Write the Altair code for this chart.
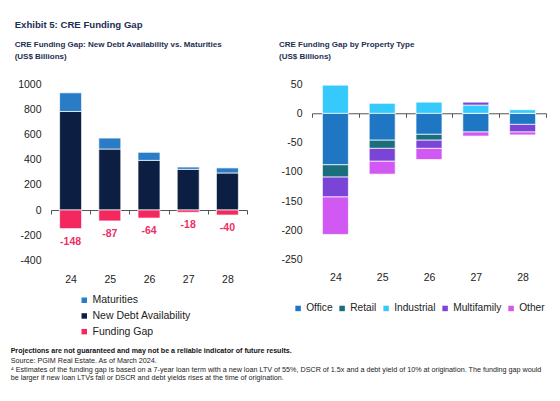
import altair as alt
import pandas as pd

# Left panel: new debt availability vs. maturities (US$ billions)
years = ["24", "25", "26", "27", "28"]
new_debt = [782, 484, 394, 323, 294]
funding_gap = [-148, -87, -64, -18, -40]

# Right panel: funding gap split by property type (US$ billions)
prop_types = ["Office", "Retail", "Industrial", "Multifamily", "Other"]
office = [-88, -46, -36, -32, -19]
retail = [-21, -14, -10, 0, 0]
industrial = [48, 17, 19, 14, 6]
multifamily = [-34, -22, -14, 5, -13]
other = [-64, -22, -19, -7, -5]

left_series = ["Maturities", "New Debt Availability", "Funding Gap"]
left_colors = ["#2a7cc7", "#0c1f42", "#f2285f"]
prop_colors = ["#1f77c4", "#1b6e7b", "#36c9fb", "#7a45d6", "#d158f3"]

FONT = "Liberation Sans, Arial, sans-serif"
NAVY = "#1d2f52"
GAP_RED = "#ee2f66"
PLAIN_NUM = "'' + datum.value"   # hyphen-minus instead of the typographic minus

# ---- left panel data -------------------------------------------------------
rows = []
for i, yr in enumerate(years):
    rows.append({"year": yr, "series": "New Debt Availability", "value": new_debt[i], "rank": 0})
    rows.append({"year": yr, "series": "Maturities", "value": -funding_gap[i], "rank": 1})
    rows.append({"year": yr, "series": "Funding Gap", "value": funding_gap[i], "rank": 2})
left_df = pd.DataFrame(rows)
gap_df = pd.DataFrame({"year": years, "value": funding_gap,
                       "label": [str(g) for g in funding_gap]})

# ---- right panel data ------------------------------------------------------
prop_values = [office, retail, industrial, multifamily, other]
prows = []
for k, name in enumerate(prop_types):
    for i, yr in enumerate(years):
        prows.append({"year": yr, "type": name, "value": prop_values[k][i], "rank": k})
right_df = pd.DataFrame(prows)

LEFT_W, LEFT_H = 196, 176.4
RIGHT_W, RIGHT_H = 234, 175.6
left_zero = LEFT_H * 400 / 1400      # distance of y=0 above the plot bottom
right_zero = RIGHT_H * 250 / 300


def x_enc(zero_from_bottom, label_pad):
    return alt.X(
        "year:N",
        sort=years,
        scale=alt.Scale(paddingInner=0, paddingOuter=0),
        axis=alt.Axis(
            title=None, labelAngle=0, offset=-zero_from_bottom,
            labelPadding=label_pad, tickBand="extent", tickSize=4,
            domainColor="#555", tickColor="#555", domainWidth=1,
            labelFontSize=10.5, labelColor="#222",
        ),
    )


def y_enc(domain, values, pad, stack):
    return alt.Y(
        "value:Q", stack=stack,
        scale=alt.Scale(domain=domain, nice=False, zero=False),
        axis=alt.Axis(values=values, grid=False, domain=False, ticks=False,
                      labelPadding=pad, title=None, labelOverlap=False,
                      labelExpr=PLAIN_NUM, labelFontSize=10.5, labelColor="#222"),
    )


left_x = x_enc(left_zero, 60)
left_dom, left_ticks = [-400, 1000], list(range(-400, 1001, 200))

left_bars = alt.Chart(left_df).mark_bar(size=22, stroke="white", strokeWidth=0.7).encode(
    x=left_x,
    y=y_enc(left_dom, left_ticks, 10, "zero"),
    color=alt.Color(
        "series:N",
        scale=alt.Scale(domain=left_series, range=left_colors),
        legend=alt.Legend(title=None, orient="none", legendX=28, legendY=211,
                          direction="vertical", symbolType="square", symbolSize=30,
                          symbolStrokeWidth=0, labelFontSize=10.5, labelColor="#222",
                          rowPadding=4.7, labelOffset=3, padding=0),
    ),
    order=alt.Order("rank:Q"),
)

left_labels = alt.Chart(gap_df).mark_text(
    dy=13, fontWeight="bold", fontSize=10.5, color=GAP_RED, baseline="middle"
).encode(
    x=left_x,
    y=y_enc(left_dom, left_ticks, 10, None),
    text=alt.Text("label:N"),
)

left = alt.layer(left_bars, left_labels).properties(
    width=LEFT_W, height=LEFT_H,
    title=alt.TitleParams(
        ["CRE Funding Gap: New Debt Availability vs. Maturities", "(US$ Billions)"],
        anchor="start", fontSize=8, fontWeight="bold", color=NAVY,
        lineHeight=12, offset=18, dx=-3,
    ),
)

right = alt.Chart(right_df).mark_bar(size=26, stroke="white", strokeWidth=0.7).encode(
    x=x_enc(right_zero, 155),
    y=y_enc([-250, 50], list(range(-250, 51, 50)), 10, "zero"),
    color=alt.Color(
        "type:N",
        scale=alt.Scale(domain=prop_types, range=prop_colors),
        legend=alt.Legend(title=None, orient="none", legendX=-19, legendY=219,
                          direction="horizontal", symbolType="square", symbolSize=30,
                          symbolStrokeWidth=0, labelFontSize=10.2, labelColor="#222",
                          columnPadding=4, labelOffset=3, padding=0),
    ),
    order=alt.Order("rank:Q"),
).properties(
    width=RIGHT_W, height=RIGHT_H,
    title=alt.TitleParams(
        ["CRE Funding Gap by Property Type", "(US$ Billions)"],
        anchor="start", fontSize=8, fontWeight="bold", color=NAVY,
        lineHeight=12, offset=18, dx=-2,
    ),
)

panels = alt.hconcat(left, right, spacing=30).resolve_scale(color="independent").properties(
    title=alt.TitleParams(
        "Projections are not guaranteed and may not be a reliable indicator of future results.",
        subtitle=[
            "Source: PGIM Real Estate. As of March 2024.",
            "\u2074 Estimates of the funding gap is based on a 7-year loan term with a new loan LTV of 55%, "
            "DSCR of 1.5x and a debt yield of 10% at origination. The funding gap would",
            "be larger if new loan LTVs fall or DSCR and debt yields rises at the time of origination.",
        ],
        orient="bottom", anchor="start", fontSize=7.1, fontWeight="bold", color="#111",
        subtitleFontSize=7.2, subtitleColor="#222", subtitleLineHeight=8.6,
        subtitlePadding=3, offset=9, dx=-4,
    )
)

chart = alt.vconcat(panels).properties(
    title=alt.TitleParams(
        "Exhibit 5: CRE Funding Gap", anchor="start", fontSize=9.6, fontWeight="bold",
        color=NAVY, offset=11, dx=4,
    ),
    padding={"left": 10, "top": 20, "right": 2, "bottom": 2},
).configure(font=FONT).configure_view(stroke=None)

chart.save("out.html", embed_options={"renderer": "svg", "actions": False})
